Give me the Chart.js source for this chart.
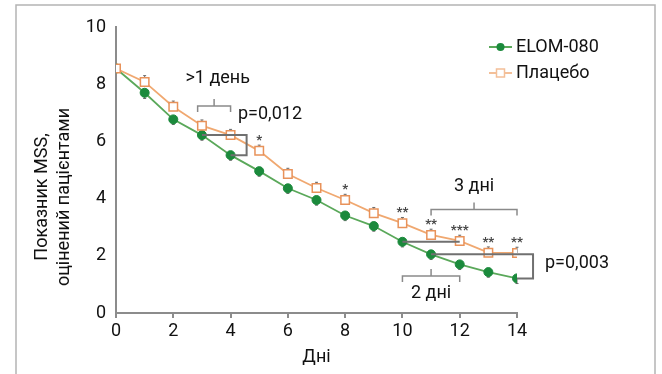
<!DOCTYPE html>
<html>
<head>
<meta charset="utf-8">
<script src="https://cdn.jsdelivr.net/npm/chart.js@4.4.0/dist/chart.umd.min.js"></script>
<style>
  html, body { margin: 0; padding: 0; background: #fff; }
  #wrap { width: 662px; height: 374px; }
</style>
</head>
<body>
<div id="wrap"><canvas id="chart" width="662" height="374"></canvas></div>
<script>
// values
const days = [0, 1, 2, 3, 4, 5, 6, 7, 8, 9, 10, 11, 12, 13, 14];
const elom = [8.55, 7.70, 6.77, 6.22, 5.52, 4.96, 4.36, 3.95, 3.41, 3.04, 2.49, 2.05, 1.70, 1.43, 1.21];
const placebo = [8.55, 8.08, 7.21, 6.55, 6.22, 5.67, 4.86, 4.37, 3.95, 3.49, 3.14, 2.73, 2.52, 2.11, 2.10];
const elomErr = [0, 0.2, 0.18, 0.18, 0.18, 0.18, 0.18, 0.18, 0.18, 0.18, 0.18, 0.18, 0.18, 0.18, 0.18];
const placeboErr = [0, 0.22, 0.2, 0.2, 0.2, 0.2, 0.2, 0.2, 0.2, 0.2, 0.2, 0.2, 0.2, 0.2, 0.2];
const signif = ['', '', '', '', '', '*', '', '', '*', '', '**', '**', '***', '**', '**'];
const xTicks = [0, 2, 4, 6, 8, 10, 12, 14];
const yTicks = [0, 2, 4, 6, 8, 10];
const seriesNames = ['ELOM-080', 'Плацебо'];
const yTitle = ['Показник MSS,', 'оцінений пацієнтами'];
const xTitle = 'Дні';

const FONT = 'Roboto, "Noto Sans", sans-serif';
const GREEN_LINE = '#5aa85a';
const GREEN_DOT = '#1b8a3c';
const ORANGE_LINE = '#f0a870';
const ORANGE_DOT = '#e8925a';
const GRAY = '#707070';

const overlay = {
  id: 'overlay',
  beforeDraw(chart) {
    const ctx = chart.ctx;
    ctx.save();
    ctx.fillStyle = '#fff';
    ctx.fillRect(0, 0, chart.width, chart.height);
    ctx.strokeStyle = '#b4b4b4';
    ctx.lineWidth = 1.5;
    ctx.beginPath();
    ctx.moveTo(16, chart.height);
    ctx.lineTo(16, 5);
    ctx.lineTo(655, 5);
    ctx.lineTo(655, chart.height);
    ctx.stroke();
    ctx.restore();
  },
  beforeDatasetsDraw(chart) {
    const ctx = chart.ctx;
    const xs = chart.scales.x, ys = chart.scales.y;
    ctx.save();
    ctx.strokeStyle = '#6a6a6a';
    ctx.lineWidth = 1;
    days.forEach((d, i) => {
      const x = xs.getPixelForValue(d);
      if (placeboErr[i]) {
        const y0 = ys.getPixelForValue(placebo[i]);
        const y1 = ys.getPixelForValue(placebo[i] + placeboErr[i]);
        ctx.beginPath();
        ctx.moveTo(x, y0); ctx.lineTo(x, y1);
        ctx.moveTo(x - 1.5, y1); ctx.lineTo(x + 1.5, y1);
        ctx.stroke();
      }
      if (elomErr[i]) {
        const y0 = ys.getPixelForValue(elom[i]);
        const y1 = ys.getPixelForValue(elom[i] - elomErr[i]);
        ctx.beginPath();
        ctx.moveTo(x, y0); ctx.lineTo(x, y1);
        ctx.moveTo(x - 1.5, y1); ctx.lineTo(x + 1.5, y1);
        ctx.stroke();
      }
    });
    ctx.restore();
  },
  afterDatasetsDraw(chart) {
    const ctx = chart.ctx;
    const xs = chart.scales.x, ys = chart.scales.y;
    const X = v => xs.getPixelForValue(v);
    const Y = v => ys.getPixelForValue(v);
    ctx.save();

    // significance stars
    ctx.fillStyle = '#444';
    ctx.font = 'bold 13px ' + FONT;
    ctx.textAlign = 'center';
    ctx.textBaseline = 'alphabetic';
    days.forEach((d, i) => {
      if (signif[i]) ctx.fillText(signif[i], X(d), Y(placebo[i]) - 7);
    });

    // braces
    function brace(x1, x2, yv) {
      const a = X(x1), b = X(x2), y = Y(yv), m = (a + b) / 2;
      ctx.beginPath();
      ctx.moveTo(a, y + 6); ctx.lineTo(a, y); ctx.lineTo(b, y); ctx.lineTo(b, y + 6);
      ctx.moveTo(m, y); ctx.lineTo(m, y - 7);
      ctx.stroke();
    }
    ctx.strokeStyle = '#8a8a8a';
    ctx.lineWidth = 1.5;
    brace(2.85, 4.0, 7.24);
    brace(11, 14, 3.62);
    brace(10, 12, 1.29);

    // comparison lines and p brackets
    ctx.strokeStyle = GRAY;
    ctx.lineWidth = 2;
    ctx.beginPath();
    ctx.moveTo(X(3), Y(elom[3])); ctx.lineTo(X(4.56), Y(elom[3]));
    ctx.lineTo(X(4.56), Y(elom[4])); ctx.lineTo(X(4), Y(elom[4]));
    ctx.moveTo(X(10), Y(elom[10])); ctx.lineTo(X(12), Y(elom[10]));
    ctx.moveTo(X(11), Y(elom[11])); ctx.lineTo(X(14.56), Y(elom[11]));
    ctx.lineTo(X(14.56), Y(elom[14])); ctx.lineTo(X(14), Y(elom[14]));
    ctx.stroke();

    // annotation texts
    ctx.fillStyle = '#111';
    ctx.font = '18px ' + FONT;
    ctx.textBaseline = 'middle';
    ctx.textAlign = 'center';
    ctx.fillText('>1 день', X(3.55), 78);
    ctx.fillText('3 дні', X(12.5), 186);
    ctx.fillText('2 дні', X(11), 293);
    ctx.textAlign = 'left';
    ctx.fillText('p=0,012', 238, 114);
    ctx.fillText('p=0,003', 545, 263);

    // legend
    ctx.lineWidth = 2;
    ctx.strokeStyle = GREEN_LINE;
    ctx.beginPath(); ctx.moveTo(489, 47); ctx.lineTo(512, 47); ctx.stroke();
    ctx.fillStyle = GREEN_DOT;
    ctx.beginPath(); ctx.arc(500.5, 47, 4, 0, Math.PI * 2); ctx.fill();
    ctx.strokeStyle = '#f3bf98';
    ctx.beginPath(); ctx.moveTo(489, 73); ctx.lineTo(512, 73); ctx.stroke();
    ctx.fillStyle = '#fff';
    ctx.fillRect(496.5, 69, 8, 8);
    ctx.lineWidth = 1.5;
    ctx.strokeRect(496.5, 69, 8, 8);
    ctx.fillStyle = '#111';
    ctx.font = '18px ' + FONT;
    ctx.textAlign = 'left';
    ctx.fillText(seriesNames[0], 516, 47);
    ctx.fillText(seriesNames[1], 516, 73);

    // y axis title
    ctx.translate(42, 197);
    ctx.rotate(-Math.PI / 2);
    ctx.textAlign = 'center';
    ctx.fillText(yTitle[0], 0, 0);
    ctx.fillText(yTitle[1], 0, 22);
    ctx.restore();
  }
};

new Chart(document.getElementById('chart'), {
  type: 'line',
  data: {
    datasets: [
      {
        label: seriesNames[0],
        data: days.map((d, i) => ({ x: d, y: elom[i] })),
        borderColor: GREEN_LINE,
        borderWidth: 1.8,
        pointStyle: 'circle',
        pointRadius: 4.5,
        pointBackgroundColor: GREEN_DOT,
        pointBorderColor: GREEN_DOT,
        pointBorderWidth: 1,
        tension: 0,
        order: 2
      },
      {
        label: seriesNames[1],
        data: days.map((d, i) => ({ x: d, y: placebo[i] })),
        borderColor: ORANGE_LINE,
        borderWidth: 1.8,
        pointStyle: 'rect',
        pointRadius: 6,
        pointBackgroundColor: '#fff',
        pointBorderColor: ORANGE_DOT,
        pointBorderWidth: 1.5,
        tension: 0,
        order: 1
      }
    ]
  },
  options: {
    responsive: false,
    animation: false,
    layout: { padding: { left: 20, right: 145, top: 27, bottom: 0 } },
    plugins: {
      legend: { display: false },
      tooltip: { enabled: false }
    },
    scales: {
      x: {
        type: 'linear',
        min: 0,
        max: 14,
        afterBuildTicks: (scale) => { scale.ticks = xTicks.map(v => ({ value: v })); },
        afterFit: (scale) => { scale.height = 61; },
        grid: { display: true, drawOnChartArea: false, drawTicks: true, tickLength: 5, tickColor: '#8c8c8c', lineWidth: 2 },
        border: { display: true, color: '#8c8c8c', width: 2 },
        ticks: { color: '#111', font: { family: FONT, size: 18 }, padding: 3, maxRotation: 0 },
        title: { display: true, text: xTitle, color: '#111', font: { family: FONT, size: 18 }, padding: { top: 0, bottom: 6 } }
      },
      y: {
        min: 0,
        max: 10,
        afterBuildTicks: (scale) => { scale.ticks = yTicks.map(v => ({ value: v })); },
        afterFit: (scale) => { scale.width = 96; },
        grid: { display: false, drawTicks: false },
        border: { display: true, color: '#8c8c8c', width: 2 },
        ticks: { color: '#111', font: { family: FONT, size: 18 }, padding: 10 }
      }
    }
  },
  plugins: [overlay]
});
</script>
</body>
</html>
